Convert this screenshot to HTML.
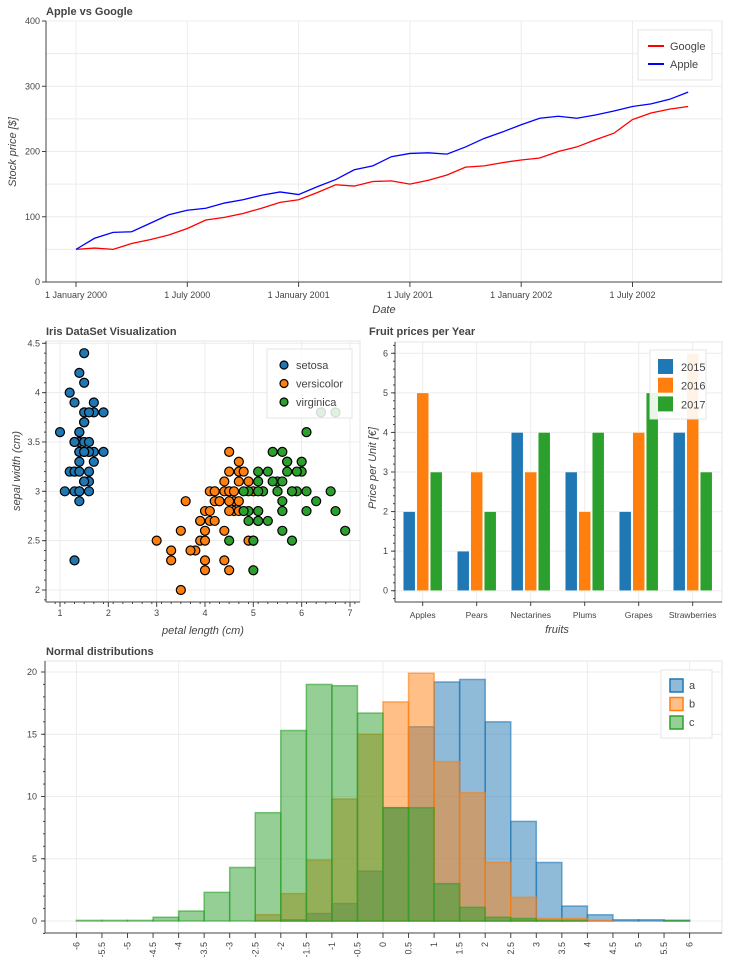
<!DOCTYPE html>
<html><head><meta charset="utf-8"><style>
body{margin:0;background:#fff;font-family:"Liberation Sans",sans-serif}
svg{display:block}
text{font-family:"Liberation Sans",sans-serif;fill:#444}
</style></head><body>
<svg id="s" width="753" height="960" xmlns="http://www.w3.org/2000/svg"></svg>
<script>
// ---- Stock chart data (monthly samples from Jan 2000) ----
const stockMonths = [0,1,2,3,4,5,6,7,8,9,10,11,12,13,14,15,16,17,18,19,20,21,22,23,24,25,26,27,28,29,30,31,32,33];
const appleVals = [50,67,76,77,90,103,110,113,121,126,133,138,134,146,157,172,178,192,197,198,196,207,220,230,241,251,254,251,256,262,269,273,280,291];
const googleVals = [50,52,50,59,65,72,82,95,99,105,113,122,126,137,149,147,154,155,150,156,164,176,178,183,187,190,200,207,218,228,249,259,265,269];
const stockTicks = [0,100,200,300,400];
const dateLabels = ["1 January 2000","1 July 2000","1 January 2001","1 July 2001","1 January 2002","1 July 2002"];
const dateLabelMonths = [0,6,12,18,24,30];

// ---- Iris data: [petal length, sepal width] ----
const setosaPL = [1.4,1.4,1.3,1.5,1.4,1.7,1.4,1.5,1.4,1.5,1.5,1.6,1.4,1.1,1.2,1.5,1.3,1.4,1.7,1.5,1.7,1.5,1.0,1.7,1.9,1.6,1.6,1.5,1.4,1.6,1.6,1.5,1.5,1.4,1.5,1.2,1.3,1.4,1.3,1.5,1.3,1.3,1.3,1.6,1.9,1.4,1.6,1.4,1.5,1.4];
const setosaSW = [3.5,3.0,3.2,3.1,3.6,3.9,3.4,3.4,2.9,3.1,3.7,3.4,3.0,3.0,4.0,4.4,3.9,3.5,3.8,3.8,3.4,3.7,3.6,3.3,3.4,3.0,3.4,3.5,3.4,3.2,3.1,3.4,4.1,4.2,3.1,3.2,3.5,3.6,3.0,3.4,3.5,2.3,3.2,3.5,3.8,3.0,3.8,3.2,3.7,3.3];
const versiPL = [4.7,4.5,4.9,4.0,4.6,4.5,4.7,3.3,4.6,3.9,3.5,4.2,4.0,4.7,3.6,4.4,4.5,4.1,4.5,3.9,4.8,4.0,4.9,4.7,4.3,4.4,4.8,5.0,4.5,3.5,3.8,3.7,3.9,5.1,4.5,4.5,4.7,4.4,4.1,4.0,4.4,4.6,4.0,3.3,4.2,4.2,4.2,4.3,3.0,4.1];
const versiSW = [3.2,3.2,3.1,2.3,2.8,2.8,3.3,2.4,2.9,2.7,2.0,3.0,2.2,2.9,2.9,3.1,3.0,2.7,2.2,2.5,3.2,2.8,2.5,2.8,2.9,3.0,2.8,3.0,2.9,2.6,2.4,2.4,2.7,2.7,3.0,3.4,3.1,2.3,3.0,2.5,2.6,3.0,2.6,2.3,2.7,3.0,2.9,2.9,2.5,2.8];
const virgPL = [6.0,5.1,5.9,5.6,5.8,6.6,4.5,6.3,5.8,6.1,5.1,5.3,5.5,5.0,5.1,5.3,5.5,6.7,6.9,5.0,5.7,4.9,6.7,4.9,5.7,6.0,4.8,4.9,5.6,5.8,6.1,6.4,5.6,5.1,5.6,6.1,5.6,5.5,4.8,5.4,5.6,5.1,5.1,5.9,5.7,5.2,5.0,5.2,5.4,5.1];
const virgSW = [3.3,2.7,3.0,2.9,3.0,3.0,2.5,2.9,2.5,3.6,3.2,2.7,3.0,2.5,2.8,3.2,3.0,3.8,2.6,2.2,3.2,2.8,2.8,2.7,3.3,3.2,2.8,3.0,2.8,3.0,2.8,3.8,2.8,2.8,2.6,3.0,3.4,3.1,3.0,3.1,3.1,3.1,2.7,3.2,3.3,3.0,2.5,3.0,3.4,3.0];
const irisXTicks = [1,2,3,4,5,6,7];
const irisYTicks = [2,2.5,3,3.5,4,4.5];

// ---- Fruit data ----
const fruits = ["Apples","Pears","Nectarines","Plums","Grapes","Strawberries"];
const years = ["2015","2016","2017"];
const v2015 = [2,1,4,3,2,4];
const v2016 = [5,3,3,2,4,6];
const v2017 = [3,2,4,4,5,3];
const fruitTicks = [0,1,2,3,4,5,6];

// ---- Histogram data (bins of 0.5 from -6 to 6) ----
const binEdges = [-6,-5.5,-5,-4.5,-4,-3.5,-3,-2.5,-2,-1.5,-1,-0.5,0,0.5,1,1.5,2,2.5,3,3.5,4,4.5,5,5.5,6];
const histA = [0,0,0,0,0,0,0,0,0.1,0.6,1.4,4.0,9.1,15.6,19.2,19.4,16.0,8.0,4.7,1.2,0.5,0.1,0.1,0.05];
const histB = [0,0,0,0,0,0,0,0.5,2.2,4.9,9.8,15.0,17.6,19.9,12.8,10.3,4.7,1.9,0.2,0.2,0.05,0,0,0];
const histC = [0.05,0.05,0.05,0.3,0.8,2.3,4.3,8.7,15.3,19.0,18.9,16.7,9.1,9.1,3.0,1.1,0.3,0.2,0.05,0.05,0,0,0,0.05];
const histYTicks = [0,5,10,15,20];

const S = document.getElementById('s');
const NS = 'http://www.w3.org/2000/svg';
function mk(tag, attrs, parent){
  const e = document.createElementNS(NS, tag);
  for (const k in attrs) e.setAttribute(k, attrs[k]);
  (parent||S).appendChild(e);
  return e;
}
function txt(x,y,s,size,anchor,parent,extra){
  const t = mk('text',{x:x,y:y,'font-size':size,'text-anchor':anchor||'start'},parent);
  if(extra) for(const k in extra) t.setAttribute(k,extra[k]);
  t.textContent = s;
  return t;
}
function linear(d0,d1,r0,r1){return v=>r0+(v-d0)*(r1-r0)/(d1-d0);}
function frame(g,l,t,r,b){
  mk('rect',{x:l,y:t,width:r-l,height:b-t,fill:'none',stroke:'#e5e5e5','stroke-width':1},g);
}

// ================= Stock chart =================
(function(){
  const g = mk('g',{});
  
  
  const L=46,T=21,R=722,B=282;
  const x = linear(0,6,76,187.3);
  const y = linear(0,400,B,T);
  txt(46,15,'Apple vs Google',11,'start',g,{'font-weight':'bold',fill:'#444'});
  frame(g,L,T,R,B);
  for(let v=0;v<=400;v+=50){ mk('line',{x1:L,x2:R,y1:y(v),y2:y(v),stroke:'#ececec'},g); }
  dateLabelMonths.forEach(m=>{ mk('line',{x1:x(m),x2:x(m),y1:T,y2:B,stroke:'#ececec'},g); });
  mk('line',{x1:L,x2:L,y1:T,y2:B,stroke:'#444'},g);
  mk('line',{x1:L,x2:R,y1:B,y2:B,stroke:'#444'},g);
  stockTicks.forEach(v=>{
    mk('line',{x1:L-4,x2:L,y1:y(v),y2:y(v),stroke:'#444'},g);
    txt(L-6,y(v)+3,String(v),9,'end',g);
  });
  dateLabels.forEach((s,i)=>{
    const xx=x(dateLabelMonths[i]);
    mk('line',{x1:xx,x2:xx,y1:B,y2:B+5,stroke:'#444'},g);
    txt(xx,B+16,s,9,'middle',g);
  });
  const yl = txt(16,152,'Stock price [$]',11,'middle',g,{'font-style':'italic',transform:'rotate(-90 16 152)'});
  
  const xl = txt(384,313,'Date',11,'middle',g,{'font-style':'italic'});
  
  const pg = googleVals.map((v,i)=>x(stockMonths[i])+','+y(v)).join(' ');
  const pa = appleVals.map((v,i)=>x(stockMonths[i])+','+y(v)).join(' ');
  const lg = mk('polyline',{points:pg,fill:'none',stroke:'#ff0000','stroke-width':1.3},g);
  
  
  const la = mk('polyline',{points:pa,fill:'none',stroke:'#0000ff','stroke-width':1.3},g);
  
  
  const leg = mk('g',{},g);
  
  
  mk('rect',{x:638,y:30,width:74,height:50,fill:'#fff',stroke:'#e5e5e5'},leg);
  [['Google','#ff0000',46],['Apple','#0000ff',64]].forEach(a=>{
    mk('line',{x1:648,x2:664,y1:a[2],y2:a[2],stroke:a[1],'stroke-width':2},leg);
    txt(670,a[2]+4,a[0],11,'start',leg,{fill:'#333'});
  });
})();

// ================= Iris scatter =================
(function(){
  const g = mk('g',{});
  
  
  const L=46,T=341,R=360,B=602;
  const x = linear(1,7,60,350);
  const y = linear(2,4.5,590,343.3);
  txt(46,335,'Iris DataSet Visualization',11,'start',g,{'font-weight':'bold'});
  frame(g,L,T,R,B);
  irisXTicks.forEach(v=>mk('line',{x1:x(v),x2:x(v),y1:T,y2:B,stroke:'#ececec'},g));
  irisYTicks.forEach(v=>mk('line',{x1:L,x2:R,y1:y(v),y2:y(v),stroke:'#ececec'},g));
  mk('line',{x1:L,x2:L,y1:T,y2:B,stroke:'#444'},g);
  mk('line',{x1:L,x2:R,y1:B,y2:B,stroke:'#444'},g);
  irisXTicks.forEach(v=>{mk('line',{x1:x(v),x2:x(v),y1:B,y2:B+5,stroke:'#444'},g);txt(x(v),B+14,String(v),9,'middle',g);});
  for(let v=0.9;v<7.2;v+=0.2){mk('line',{x1:x(v),x2:x(v),y1:B,y2:B+2,stroke:'#444'},g);}
  irisYTicks.forEach(v=>{mk('line',{x1:L-4,x2:L,y1:y(v),y2:y(v),stroke:'#444'},g);txt(L-6,y(v)+3,String(v),9,'end',g);});
  for(let v=1.9;v<4.6;v+=0.1){mk('line',{x1:L-2,x2:L,y1:y(v),y2:y(v),stroke:'#444'},g);}
  txt(203,634,'petal length (cm)',11,'middle',g,{'font-style':'italic'});
  txt(20,471,'sepal width (cm)',11,'middle',g,{'font-style':'italic',transform:'rotate(-90 20 471)'});
  const sets=[[setosaPL,setosaSW,'#1f77b4','setosa'],[versiPL,versiSW,'#ff7f0e','versicolor'],[virgPL,virgSW,'#2ca02c','virginica']];
  sets.forEach(s=>{
    s[0].forEach((pl,i)=>{
      const c = mk('circle',{cx:x(pl),cy:y(s[1][i]),r:4.5,fill:s[2],stroke:'#000','stroke-width':1.2},g);
      
      
    });
  });
  const leg = mk('g',{},g);
  
  
  mk('rect',{x:267,y:349,width:85,height:69,fill:'#fff','fill-opacity':0.85,stroke:'#e5e5e5'},leg);
  sets.forEach((s,i)=>{
    const yy=365+i*18.5;
    mk('circle',{cx:284,cy:yy,r:4,fill:s[2],stroke:'#000','stroke-width':1.2},leg);
    txt(296,yy+4,s[3],11,'start',leg,{fill:'#333'});
  });
})();

// ================= Fruit bars =================
(function(){
  const g = mk('g',{});
  
  
  const L=395,T=342,R=722,B=602;
  const y = linear(0,6,590.7,353.3);
  const cx = i=>422.7+i*54;
  txt(369,335,'Fruit prices per Year',11,'start',g,{'font-weight':'bold'});
  frame(g,L,T,R,B);
  fruits.forEach((f,i)=>mk('line',{x1:cx(i),x2:cx(i),y1:T,y2:B,stroke:'#ececec'},g));
  fruitTicks.forEach(v=>mk('line',{x1:L,x2:R,y1:y(v),y2:y(v),stroke:'#ececec'},g));
  mk('line',{x1:L,x2:L,y1:T,y2:B,stroke:'#444'},g);
  mk('line',{x1:L,x2:R,y1:B,y2:B,stroke:'#444'},g);
  fruitTicks.forEach(v=>{mk('line',{x1:L-4,x2:L,y1:y(v),y2:y(v),stroke:'#444'},g);txt(L-7,y(v)+3,String(v),9,'end',g);});
  for(let v=-0.2;v<6.3;v+=0.2){mk('line',{x1:L-2,x2:L,y1:y(v),y2:y(v),stroke:'#444'},g);}
  fruits.forEach((f,i)=>{mk('line',{x1:cx(i),x2:cx(i),y1:B,y2:B+4,stroke:'#444'},g);txt(cx(i),B+16,f,8.5,'middle',g);});
  txt(557,633,'fruits',11,'middle',g,{'font-style':'italic'});
  txt(376,468,'Price per Unit [€]',11,'middle',g,{'font-style':'italic',transform:'rotate(-90 376 468)'});
  const series=[[v2015,'#1f77b4',-13.5],[v2016,'#ff7f0e',0],[v2017,'#2ca02c',13.5]];
  series.forEach((s,k)=>{
    s[0].forEach((v,i)=>{
      const r = mk('rect',{x:cx(i)+s[2]-6,y:y(v),width:12,height:y(0)-y(v),fill:s[1],stroke:'#fff','stroke-width':0.5},g);
      
      
    });
  });
  const leg = mk('g',{},g);
  
  
  mk('rect',{x:650,y:350,width:56,height:69,fill:'#fff','fill-opacity':0.9,stroke:'#e5e5e5'},leg);
  series.forEach((s,i)=>{
    const yy=359+i*18.7;
    mk('rect',{x:658,y:yy,width:15,height:15,fill:s[1]},leg);
    txt(681,yy+12,years[i],11,'start',leg,{fill:'#333'});
  });
})();

// ================= Histogram =================
(function(){
  const g = mk('g',{});
  
  
  const L=45,T=661,R=722,B=933;
  const x = linear(-6,6,76.4,689.6);
  const y = linear(0,20,921,672);
  txt(46,655,'Normal distributions',11,'start',g,{'font-weight':'bold'});
  frame(g,L,T,R,B);
  for(let v=-6;v<=6;v+=2) mk('line',{x1:x(v),x2:x(v),y1:T,y2:B,stroke:'#ececec'},g);
  histYTicks.forEach(v=>mk('line',{x1:L,x2:R,y1:y(v),y2:y(v),stroke:'#ececec'},g));
  mk('line',{x1:L,x2:L,y1:T,y2:B,stroke:'#444'},g);
  mk('line',{x1:L,x2:R,y1:B,y2:B,stroke:'#444'},g);
  histYTicks.forEach(v=>{mk('line',{x1:L-4,x2:L,y1:y(v),y2:y(v),stroke:'#444'},g);txt(L-8,y(v)+3,String(v),9,'end',g);});
  for(let v=-1;v<21;v+=1){mk('line',{x1:L-2,x2:L,y1:y(v),y2:y(v),stroke:'#444'},g);}
  binEdges.forEach(v=>{
    mk('line',{x1:x(v),x2:x(v),y1:B,y2:B+5,stroke:'#444'},g);
    const xx=x(v)+3, yy=B+9;
    txt(xx,yy,String(v),9,'end',g,{transform:'rotate(-90 '+xx+' '+yy+')'});
  });
  const series=[[histA,'#1f77b4','a'],[histB,'#ff7f0e','b'],[histC,'#2ca02c','c']];
  series.forEach(s=>{
    s[0].forEach((v,i)=>{
      const x0=x(binEdges[i]), x1=x(binEdges[i+1]);
      const r = mk('rect',{x:x0,y:y(v),width:x1-x0,height:y(0)-y(v),fill:s[1],'fill-opacity':0.5,stroke:s[1],'stroke-opacity':0.6,'stroke-width':1.5},g);
      
      
    });
  });
  const leg = mk('g',{},g);
  
  
  mk('rect',{x:661,y:670,width:51,height:68,fill:'#fff',stroke:'#e5e5e5'},leg);
  series.forEach((s,i)=>{
    const yy=679+i*18.5;
    mk('rect',{x:670,y:yy,width:13,height:13,fill:s[1],'fill-opacity':0.5,stroke:s[1],'stroke-width':1.5},leg);
    txt(689,yy+10,s[2],11,'start',leg,{fill:'#333'});
  });
})();
</script>
</body></html>
